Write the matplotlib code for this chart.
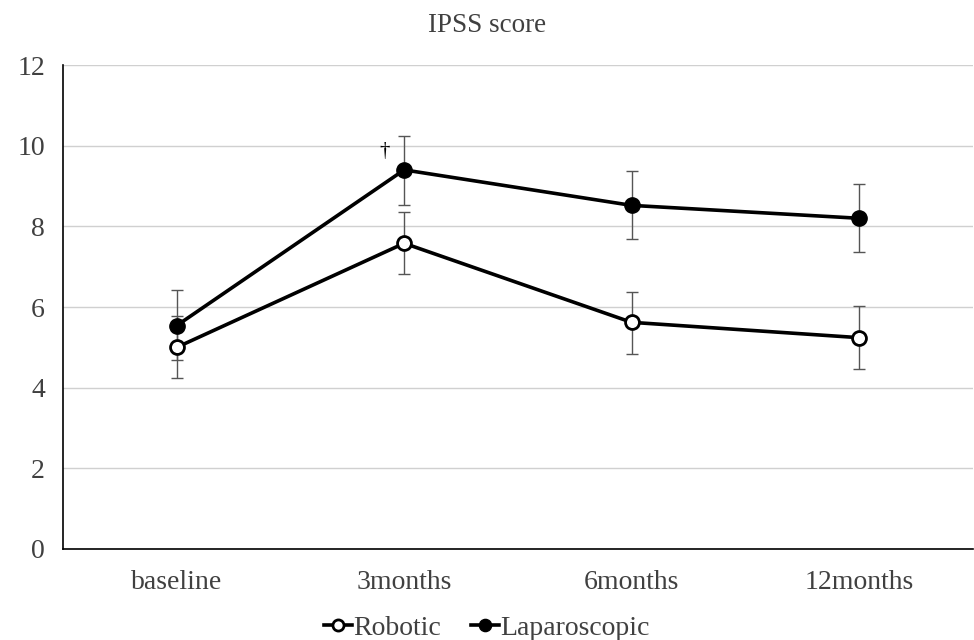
import matplotlib.pyplot as plt
import numpy as np

plt.rcParams['font.family'] = ['Liberation Serif', 'DejaVu Serif']

categorias = ['baseline', '3months', '6months', '12months']
robotic = [5.0, 7.58, 5.62, 5.24]
robotic_sup = [5.78, 8.36, 6.38, 6.02]
robotic_inf = [4.24, 6.82, 4.84, 4.47]
laparo = [5.54, 9.4, 8.52, 8.2]
laparo_sup = [6.42, 10.24, 9.37, 9.05]
laparo_inf = [4.69, 8.53, 7.68, 7.36]

x = np.arange(len(categorias))
cinza = '#404040'

fig = plt.figure(figsize=(9.74, 6.4), dpi=100)
ax = fig.add_axes([0.0647, 0.1422, 0.934, 0.7562])

# Barras de erro
for media, sup, inf in [(robotic, robotic_sup, robotic_inf), (laparo, laparo_sup, laparo_inf)]:
    media = np.array(media)
    erro = [media - np.array(inf), np.array(sup) - media]
    ax.errorbar(x, media, yerr=erro, fmt='none', ecolor='#555555',
                elinewidth=1, capsize=4, capthick=1, zorder=2)

ax.plot(x, robotic, color='black', lw=2.6, marker='o', markersize=10,
        markerfacecolor='white', markeredgecolor='black', markeredgewidth=2,
        label='Robotic', zorder=3)
ax.plot(x, laparo, color='black', lw=2.6, marker='o', markersize=11,
        markerfacecolor='black', label='Laparoscopic', zorder=3)

ax.annotate('†', (1, laparo_sup[1]), xytext=(-14, -4), textcoords='offset points',
            ha='center', va='top', fontsize=15, color='black')

ax.set_xlim(-0.5, 3.5)
ax.set_ylim(0, 12)
ax.set_yticks(range(0, 13, 2))
ax.set_xticks(x)
ax.set_xticklabels(categorias)
ax.tick_params(length=0, labelsize=20, colors=cinza)
ax.tick_params(axis='x', pad=15)
ax.tick_params(axis='y', pad=13)
ax.grid(axis='y', color='#d0d0d0', lw=1)
ax.set_axisbelow(True)
for lado in ['top', 'right']:
    ax.spines[lado].set_visible(False)
for lado in ['left', 'bottom']:
    ax.spines[lado].set_color('black')
    ax.spines[lado].set_linewidth(1.2)

fig.text(0.5, 0.96, 'IPSS score', ha='center', va='center', fontsize=19.5, color=cinza)

fig.legend(loc='center', bbox_to_anchor=(0.5, 0.018), ncol=2, frameon=False,
           fontsize=20, handlelength=1.0, handletextpad=0.05, columnspacing=1.1,
           labelcolor=cinza, markerscale=0.8)

fig.savefig('out.png', dpi=100)
